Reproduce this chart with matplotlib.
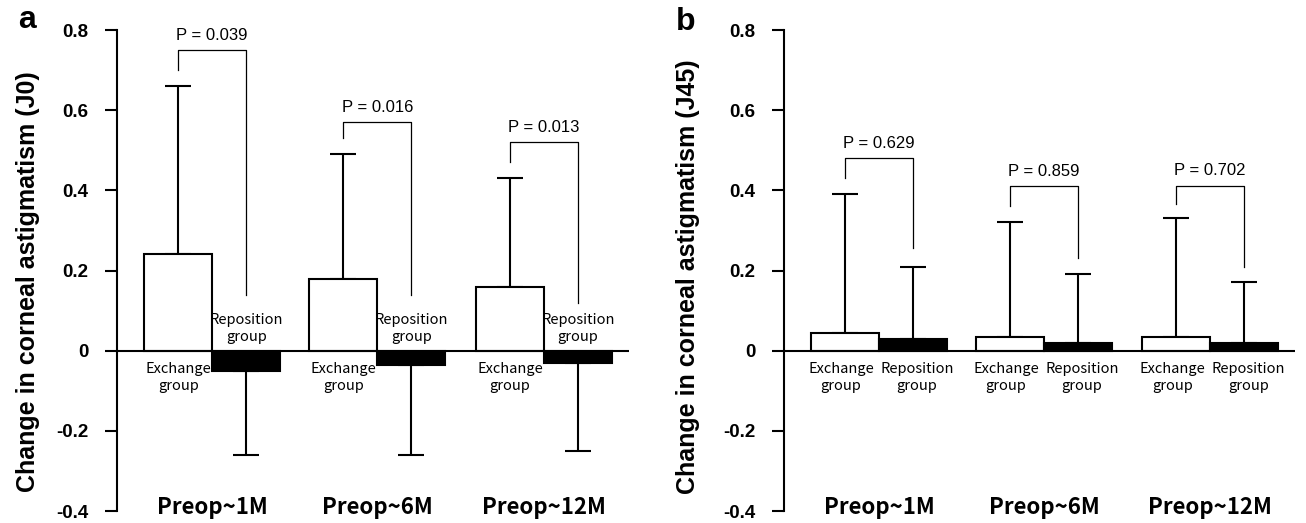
import numpy as np
import matplotlib
matplotlib.use('Agg')
import matplotlib.pyplot as plt

# values
PERIODS = ['Preop~1M', 'Preop~6M', 'Preop~12M']

J0_EXCHANGE = [0.24, 0.18, 0.16]
J0_EXCHANGE_TIP = [0.66, 0.49, 0.43]
J0_REPOSITION = [-0.05, -0.035, -0.03]
J0_REPOSITION_TIP = [-0.26, -0.26, -0.25]
J0_PVALUES = ['P = 0.039', 'P = 0.016', 'P = 0.013']
J0_BRACKET_LEFT = [0.70, 0.53, 0.47]
J0_BRACKET_TOP = [0.75, 0.57, 0.52]
J0_BRACKET_RIGHT = [0.14, 0.14, 0.12]

J45_EXCHANGE = [0.043, 0.033, 0.033]
J45_EXCHANGE_TIP = [0.39, 0.322, 0.33]
J45_REPOSITION = [0.03, 0.02, 0.02]
J45_REPOSITION_TIP = [0.21, 0.192, 0.172]
J45_PVALUES = ['P = 0.629', 'P = 0.859', 'P = 0.702']
J45_BRACKET_LEFT = [0.43, 0.362, 0.367]
J45_BRACKET_TOP = [0.48, 0.41, 0.412]
J45_BRACKET_RIGHT = [0.255, 0.23, 0.21]

YTICKS = [-0.4, -0.2, 0, 0.2, 0.4, 0.6, 0.8]
YTICK_LABELS = ['-0.4', '-0.2', '0', '0.2', '0.4', '0.6', '0.8']

GROUP_POS = np.array([0, 2.43, 4.88])
BAR_W = 1.0
LW = 1.5
GROUP_FONT = ['Noto Sans CJK KR', 'DejaVu Sans']


def draw_panel(ax, ex, ex_tip, rep, rep_tip, pvals, b_left, b_top, b_right,
               rep_label_above):
    ex = np.array(ex)
    rep = np.array(rep)
    ex_x = GROUP_POS
    rep_x = GROUP_POS + BAR_W

    ax.bar(ex_x, ex, width=BAR_W, color='white', edgecolor='black',
           linewidth=LW, zorder=3)
    ax.bar(rep_x, rep, width=BAR_W, color='black', edgecolor='black',
           linewidth=LW, zorder=3)

    # one-sided error bars
    for xs, vals, tips in [(ex_x, ex, ex_tip), (rep_x, rep, rep_tip)]:
        tips = np.array(tips)
        err = np.abs(tips - vals)
        zeros = np.zeros_like(err)
        up = vals >= 0
        yerr = [np.where(up, zeros, err), np.where(up, err, zeros)]
        ax.errorbar(xs, vals, yerr=yerr, fmt='none', ecolor='black',
                    elinewidth=LW, capsize=9.7, capthick=LW, zorder=2)

    ax.axhline(0, color='black', linewidth=LW, zorder=4)

    # significance brackets
    for i in range(3):
        ax.plot([ex_x[i], ex_x[i], rep_x[i], rep_x[i]],
                [b_left[i], b_top[i], b_top[i], b_right[i]],
                color='black', linewidth=0.9, zorder=2)
        ax.text((ex_x[i] + rep_x[i]) / 2, b_top[i] + 0.037, pvals[i],
                ha='center', va='center', fontsize=12,
                family='Liberation Sans')

    # group labels
    shift = 0 if rep_label_above else 0.06
    for i in range(3):
        ax.text(ex_x[i] - shift, -0.066, 'Exchange\ngroup', ha='center',
                va='center', fontsize=10.5, family=GROUP_FONT,
                linespacing=1.25, zorder=5)
        ry = 0.056 if rep_label_above else -0.066
        ax.text(rep_x[i] + shift, ry, 'Reposition\ngroup', ha='center',
                va='center', fontsize=10.5, family=GROUP_FONT,
                linespacing=1.25, zorder=5)
        ax.text((ex_x[i] + rep_x[i]) / 2, -0.39, PERIODS[i], ha='center',
                va='center', fontsize=16, fontweight='bold',
                family=GROUP_FONT)

    ax.set_xlim(-0.9, 6.63)
    ax.set_ylim(-0.4, 0.8)
    ax.set_yticks(YTICKS)
    ax.set_yticklabels(YTICK_LABELS, fontsize=13.5, fontweight='bold',
                       family='Liberation Sans')
    ax.tick_params(axis='y', length=8.5, width=LW, pad=12)
    ax.set_xticks([])
    for side in ['top', 'right', 'bottom']:
        ax.spines[side].set_visible(False)
    ax.spines['left'].set_linewidth(LW)
    ax.patch.set_alpha(0)


fig = plt.figure(figsize=(13.06, 5.23), dpi=100)
ax_a = fig.add_axes([117 / 1306, 0.0229, 512 / 1306, 0.9197])
ax_b = fig.add_axes([784 / 1306, 0.0229, 511 / 1306, 0.9197])

draw_panel(ax_a, J0_EXCHANGE, J0_EXCHANGE_TIP, J0_REPOSITION,
           J0_REPOSITION_TIP, J0_PVALUES, J0_BRACKET_LEFT, J0_BRACKET_TOP,
           J0_BRACKET_RIGHT, rep_label_above=True)
draw_panel(ax_b, J45_EXCHANGE, J45_EXCHANGE_TIP, J45_REPOSITION,
           J45_REPOSITION_TIP, J45_PVALUES, J45_BRACKET_LEFT, J45_BRACKET_TOP,
           J45_BRACKET_RIGHT, rep_label_above=False)

fig.text(28 / 1306, 1 - 282 / 523, 'Change in corneal astigmatism (J0)',
         rotation=90, ha='center', va='center', fontsize=18,
         fontweight='bold', family='Liberation Sans')
fig.text(688 / 1306, 1 - 277 / 523, 'Change in corneal astigmatism (J45)',
         rotation=90, ha='center', va='center', fontsize=18,
         fontweight='bold', family='Liberation Sans')

fig.text(27 / 1306, 1 - 20 / 523, 'a', ha='center', va='center',
         fontsize=23, fontweight='bold', family='Liberation Sans')
fig.text(686 / 1306, 1 - 22 / 523, 'b', ha='center', va='center',
         fontsize=23, fontweight='bold', family='Liberation Sans')

fig.savefig('out.png', dpi=100)
